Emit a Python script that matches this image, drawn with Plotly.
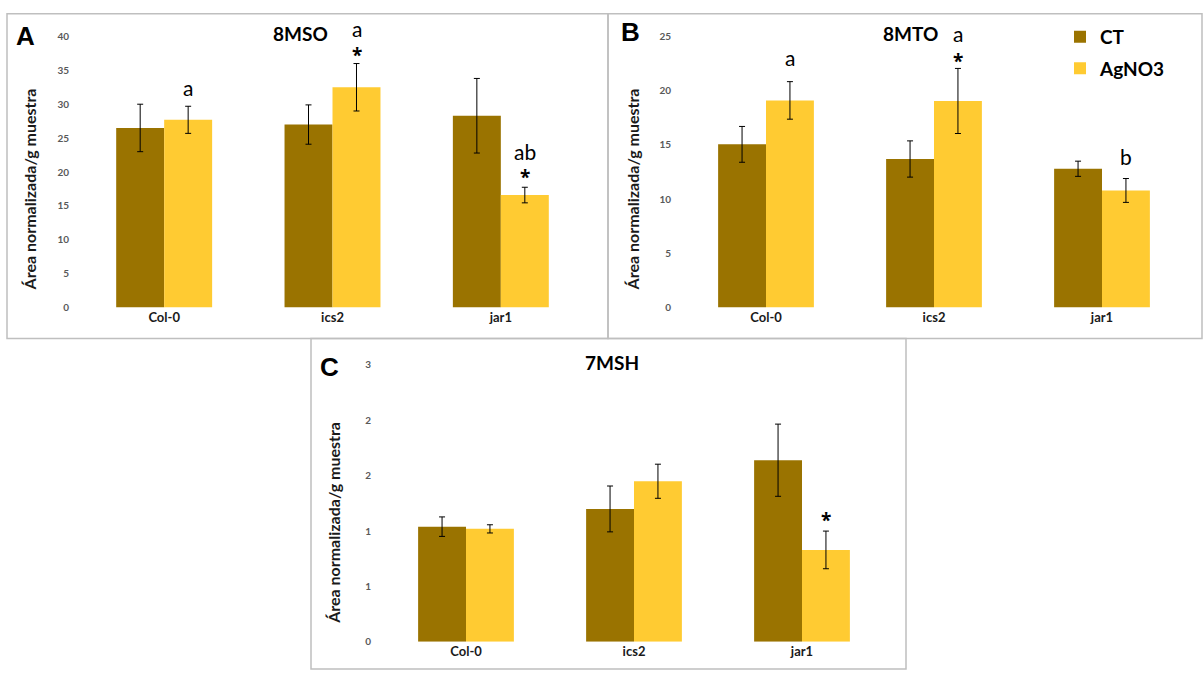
import plotly.graph_objects as go

# Genotypes and treatments
genotypes = ["Col-0", "ics2", "jar1"]
treatments = ["CT", "AgNO3"]
colors = {"CT": "#9A7300", "AgNO3": "#FFCB32"}

# 8MSO (panel A): means and error (SD)
mso_ct = [26.5, 27.0, 28.3]
mso_ct_err = [3.5, 2.9, 5.5]
mso_ag = [27.7, 32.5, 16.6]
mso_ag_err = [2.0, 3.5, 1.15]

# 8MTO (panel B)
mto_ct = [15.05, 13.7, 12.8]
mto_ct_err = [1.65, 1.67, 0.7]
mto_ag = [19.1, 19.05, 10.8]
mto_ag_err = [1.73, 3.0, 1.1]

# 7MSH (panel C)
msh_ct = [1.04, 1.2, 1.64]
msh_ct_err = [0.088, 0.207, 0.326]
msh_ag = [1.02, 1.45, 0.83]
msh_ag_err = [0.037, 0.154, 0.17]

# y-axis ticks
ticks_a = [0, 5, 10, 15, 20, 25, 30, 35, 40]
ticks_b = [0, 5, 10, 15, 20, 25]
ticks_c = [0, 0.5, 1.0, 1.5, 2.0, 2.5]
ticklabels_c = ["0", "1", "1", "2", "2", "3"]

W, H = 1203, 675
FONT = "Lato"


def px_x(p):
    return p / W


def px_y(p):
    return 1 - p / H


fig = go.Figure()

panels = [
    dict(key="", xa="x", ya="y", ct=mso_ct, cte=mso_ct_err, ag=mso_ag, age=mso_ag_err,
         xdom=[px_x(80), px_x(585)], ydom=[px_y(306.5), px_y(30)],
         yrange=[0, 40], ticks=ticks_a, ticktext=[str(t) for t in ticks_a]),
    dict(key="2", xa="x2", ya="y2", ct=mto_ct, cte=mto_ct_err, ag=mto_ag, age=mto_ag_err,
         xdom=[px_x(682), px_x(1186)], ydom=[px_y(306.5), px_y(30)],
         yrange=[0, 25], ticks=ticks_b, ticktext=[str(t) for t in ticks_b]),
    dict(key="3", xa="x3", ya="y3", ct=msh_ct, cte=msh_ct_err, ag=msh_ag, age=msh_ag_err,
         xdom=[px_x(382), px_x(886)], ydom=[px_y(647.3), px_y(365)],
         yrange=[0, 2.5], ticks=ticks_c, ticktext=ticklabels_c),
]

for i, p in enumerate(panels):
    for name, vals, errs in [("CT", p["ct"], p["cte"]), ("AgNO3", p["ag"], p["age"])]:
        fig.add_trace(go.Bar(
            x=genotypes, y=vals, name=name,
            marker=dict(color=colors[name], line=dict(width=0)),
            error_y=dict(type="data", array=errs, visible=True, color="#000000",
                         thickness=1, width=3),
            xaxis=p["xa"], yaxis=p["ya"],
            showlegend=(i == 1), legendgroup=name,
        ))
    fig.layout["xaxis" + p["key"]] = dict(
        domain=p["xdom"], anchor=p["ya"], showline=False, showgrid=False, zeroline=False,
        ticks="", tickfont=dict(family=FONT, size=13, color="#1a1a1a", weight="bold"),
    )
    fig.layout["yaxis" + p["key"]] = dict(
        domain=p["ydom"], anchor=p["xa"], range=p["yrange"], showgrid=False,
        showline=False, zeroline=False, ticks="", tickvals=p["ticks"], ticktext=p["ticktext"],
        tickfont=dict(family=FONT, size=10, color="#595959", weight="bold"),
        ticklabelstandoff=10,
    )

annotations = []


def label(text, x, y, size, weight="bold", angle=0, color="#000000"):
    annotations.append(dict(
        text=text, x=px_x(x), y=px_y(y), xref="paper", yref="paper",
        xanchor="center", yanchor="middle", showarrow=False, textangle=angle,
        font=dict(family=FONT, size=size, color=color, weight=weight),
    ))


# y-axis titles
for xpos, ypos in [(29, 186), (632, 186), (334, 526)]:
    label("Área normalizada/g muestra", xpos, ypos, 16, angle=-90, color="#1a1a1a")
# panel letters and panel titles
for txt, xpos, ypos in [("A", 25, 30), ("B", 630, 25), ("C", 329, 367)]:
    annotations.append(dict(
        text=txt, x=px_x(xpos), y=px_y(ypos), xref="paper", yref="paper",
        xanchor="center", yanchor="middle", showarrow=False,
        font=dict(family="Liberation Sans", size=26, color="#000000", weight="bold"),
    ))
for txt, xpos, ypos in [("8MSO", 300, 27), ("8MTO", 910, 27), ("7MSH", 612, 362)]:
    label(txt, xpos, ypos, 19)

# significance letters and asterisks on the AgNO3 bar of each genotype
# (axis, genotype, value on y axis, text)
marks = [
    ("", "Col-0", 31.4, "a"),
    ("", "ics2", 40.2, "a"),
    ("", "ics2", 37.6, "*"),
    ("", "jar1", 22.0, "ab"),
    ("", "jar1", 19.5, "*"),
    ("2", "Col-0", 22.4, "a"),
    ("2", "ics2", 24.6, "a"),
    ("2", "ics2", 22.9, "*"),
    ("2", "jar1", 13.3, "b"),
    ("3", "jar1", 1.115, "*"),
]
ymax = {"": 40, "2": 25, "3": 2.5}
for key, cat, yv, txt in marks:
    star = txt == "*"
    annotations.append(dict(
        text=txt, x=cat, y=yv / ymax[key], xref="x" + key, yref="y" + key + " domain",
        xshift=24, yshift=-2 if star else 7, yanchor="middle", showarrow=False,
        font=dict(family="Open Sans" if star else FONT, size=19 if star else 21,
                  color="#000000", weight="bold" if star else "normal"),
    ))

shapes = []
for x0, y0, x1, y1 in [(7, 7, 608, 338), (608, 7, 1202, 338), (311, 338, 906, 675)]:
    shapes.append(dict(type="rect", xref="paper", yref="paper",
                       x0=px_x(x0), y0=px_y(y0), x1=px_x(x1), y1=px_y(y1),
                       line=dict(color="#BFBFBF", width=1.5), fillcolor="rgba(0,0,0,0)"))

fig.update_layout(
    width=W, height=H, margin=dict(l=0, r=0, t=0, b=0),
    paper_bgcolor="white", plot_bgcolor="white",
    barmode="group", bargap=0.43, bargroupgap=0,
    annotations=annotations, shapes=shapes,
    legend=dict(x=px_x(1060), y=px_y(11), xanchor="left", yanchor="top",
                font=dict(family=FONT, size=19, color="#000000", weight="bold"),
                traceorder="grouped", tracegroupgap=4, bgcolor="rgba(0,0,0,0)",
                itemwidth=30),
)

fig.write_html("out.html")
